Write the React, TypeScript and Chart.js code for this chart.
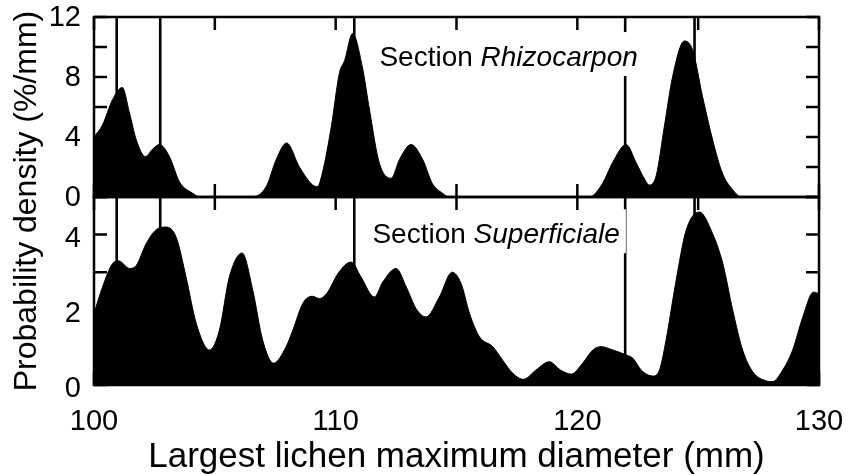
import React, { useEffect, useRef } from "react";
import { Chart, registerables } from "chart.js";

Chart.register(...registerables);

// Section Rhizocarpon (top panel)
const rhizoX = [100.0, 100.35, 100.77, 101.17, 101.47, 101.75, 102.13, 102.43, 102.71, 103.12, 103.54, 104.08, 104.4, 106.5, 107.13, 107.54, 107.97, 108.5, 109.05, 109.25, 109.45, 109.82, 110.16, 110.37, 110.7, 111.1, 111.4, 111.8, 112.3, 112.64, 113.12, 113.6, 114.0, 114.42, 114.7, 120.5, 121.04, 121.46, 122.02, 122.43, 122.78, 122.98, 123.26, 123.6, 123.94, 124.43, 124.77, 125.18, 125.6, 126.0, 126.42, 126.8, 130.0];
const rhizoY = [4.0, 4.8, 6.5, 7.3, 5.6, 3.8, 2.7, 3.2, 3.5, 2.7, 1.0, 0.25, 0, 0, 0.7, 2.5, 3.6, 2.0, 0.8, 0.7, 1.6, 4.7, 8.3, 9.1, 10.9, 8.7, 5.8, 2.3, 1.25, 2.5, 3.5, 2.5, 0.9, 0.25, 0, 0, 0.9, 2.3, 3.5, 2.3, 1.2, 0.8, 1.4, 4.7, 8.0, 10.4, 9.8, 6.7, 3.8, 1.6, 0.5, 0, 0];

// Section Superficiale (bottom panel)
const superX = [100.0, 100.35, 100.77, 101.03, 101.47, 101.75, 102.16, 102.57, 102.99, 103.4, 103.81, 104.23, 104.78, 105.19, 105.6, 106.13, 106.57, 106.98, 107.43, 107.95, 108.23, 108.64, 109.03, 109.33, 109.67, 110.09, 110.64, 111.05, 111.6, 111.95, 112.5, 112.92, 113.33, 113.74, 114.29, 114.82, 115.19, 115.54, 115.95, 116.5, 116.91, 117.33, 117.77, 118.29, 118.84, 119.3, 119.75, 120.22, 120.64, 120.98, 121.47, 122.02, 122.3, 122.64, 123.12, 123.4, 123.67, 124.09, 124.5, 125.05, 125.6, 126.02, 126.43, 126.84, 127.26, 127.81, 128.08, 128.5, 128.91, 129.33, 129.77, 130.0];
const superY = [1.9, 2.6, 3.23, 3.3, 3.1, 3.18, 3.76, 4.13, 4.2, 3.93, 2.87, 1.64, 0.93, 1.46, 2.87, 3.51, 2.52, 1.19, 0.58, 1.02, 1.46, 2.17, 2.36, 2.3, 2.47, 2.96, 3.27, 2.87, 2.34, 2.74, 3.1, 2.61, 2.03, 1.81, 2.34, 3.0, 2.7, 1.9, 1.28, 1.02, 0.66, 0.31, 0.15, 0.4, 0.62, 0.4, 0.29, 0.58, 0.93, 1.02, 0.93, 0.8, 0.71, 0.4, 0.24, 0.4, 1.19, 2.79, 4.11, 4.6, 4.02, 3.23, 1.99, 0.93, 0.35, 0.11, 0.09, 0.4, 0.93, 1.81, 2.47, 2.43];

// reference vertical lines (mm)
const markerLines = [100.94, 102.74, 110.77, 121.98, 124.85];

// tick positions
const xTickMarks = [100, 105, 110, 115, 120, 125, 130];
const topTickMarks = [0, 2, 4, 6, 8, 10, 12];
const botTickMarks = [0, 1, 2, 3, 4, 5];

const xTitle = "Largest lichen maximum diameter (mm)";
const yTitle = "Probability density (%/mm)";

const panelLabelPrefix = ["Section ", "Section "];
const panelLabelNames = ["Rhizocarpon", "Superficiale"];
const panelLabelAxes = ["yTop", "yBot"];
const panelLabelX = [111.81, 111.52];
const panelLabelY = [8.73, 3.77];

const FONT = "'Liberation Sans', Arial, Helvetica, sans-serif";

const noPad = (s: any) => {
  s.paddingTop = 0;
  s.paddingBottom = 0;
  s.paddingLeft = 0;
  s.paddingRight = 0;
};

const decorPlugin = {
  id: "decor",
  beforeDatasetsDraw(chart: any) {
    const { ctx, scales } = chart;
    const xs = scales.x;
    ctx.save();
    ctx.strokeStyle = "#000";
    ctx.lineWidth = 2.6;
    for (const id of ["yTop", "yBot"]) {
      const s = scales[id];
      for (const v of markerLines) {
        const px = xs.getPixelForValue(v);
        ctx.beginPath();
        ctx.moveTo(px, s.top);
        ctx.lineTo(px, s.bottom);
        ctx.stroke();
      }
    }
    ctx.restore();
  },
  afterDatasetsDraw(chart: any) {
    const { ctx, scales } = chart;
    const xs = scales.x;
    ctx.save();
    // panel labels with white boxes
    for (let i = 0; i < panelLabelNames.length; i++) {
      const ys = scales[panelLabelAxes[i]];
      const px = xs.getPixelForValue(panelLabelX[i]);
      const py = ys.getPixelForValue(panelLabelY[i]);
      ctx.font = `28px ${FONT}`;
      const w1 = ctx.measureText(panelLabelPrefix[i]).width;
      ctx.font = `italic 28px ${FONT}`;
      const w2 = ctx.measureText(panelLabelNames[i]).width;
      ctx.fillStyle = "#fff";
      ctx.fillRect(px - 6, py - 34, w1 + w2 + 12, 44);
      ctx.fillStyle = "#000";
      ctx.textBaseline = "alphabetic";
      ctx.textAlign = "left";
      ctx.font = `28px ${FONT}`;
      ctx.fillText(panelLabelPrefix[i], px, py);
      ctx.font = `italic 28px ${FONT}`;
      ctx.fillText(panelLabelNames[i], px + w1, py);
    }
    // frames and ticks
    ctx.strokeStyle = "#000";
    ctx.lineWidth = 2.5;
    const L = xs.left, R = xs.right;
    const TL = 13;
    const panels: [string, number[]][] = [["yTop", topTickMarks], ["yBot", botTickMarks]];
    for (const [id, marks] of panels) {
      const s = scales[id];
      ctx.strokeRect(L, s.top, R - L, s.bottom - s.top);
      ctx.beginPath();
      for (const v of xTickMarks) {
        const px = xs.getPixelForValue(v);
        ctx.moveTo(px, s.top);
        ctx.lineTo(px, s.top + TL);
        ctx.moveTo(px, s.bottom);
        ctx.lineTo(px, s.bottom - TL);
      }
      for (const v of marks) {
        const py = s.getPixelForValue(v);
        ctx.moveTo(L, py);
        ctx.lineTo(L + TL, py);
        ctx.moveTo(R, py);
        ctx.lineTo(R - TL, py);
      }
      ctx.stroke();
    }
    // y title spanning both panels
    const top = scales.yTop.top, bottom = scales.yBot.bottom;
    ctx.translate(27, (top + bottom) / 2);
    ctx.rotate(-Math.PI / 2);
    ctx.font = `32px ${FONT}`;
    ctx.textAlign = "center";
    ctx.textBaseline = "middle";
    ctx.fillStyle = "#000";
    ctx.fillText(yTitle, 0, 0);
    ctx.restore();
  },
};

export default function App() {
  const ref = useRef<HTMLCanvasElement>(null);
  useEffect(() => {
    const canvas = ref.current!;
    const chart = new Chart(canvas, {
      type: "line",
      data: {
        datasets: [
          {
            label: "Section Rhizocarpon",
            data: rhizoX.map((x, i) => ({ x, y: rhizoY[i] })),
            yAxisID: "yTop",
            borderColor: "#000",
            backgroundColor: "#000",
            borderWidth: 1,
            pointRadius: 0,
            fill: "origin",
            cubicInterpolationMode: "monotone",
          },
          {
            label: "Section Superficiale",
            data: superX.map((x, i) => ({ x, y: superY[i] })),
            yAxisID: "yBot",
            borderColor: "#000",
            backgroundColor: "#000",
            borderWidth: 1,
            pointRadius: 0,
            fill: "origin",
            cubicInterpolationMode: "monotone",
          },
        ],
      },
      options: {
        responsive: false,
        animation: false,
        devicePixelRatio: 1,
        layout: { padding: { left: 0, top: 17, right: 38, bottom: 0 } },
        plugins: { legend: { display: false }, tooltip: { enabled: false } },
        scales: {
          x: {
            type: "linear",
            min: 100,
            max: 130,
            grid: { display: false, drawTicks: false },
            border: { display: false },
            ticks: {
              stepSize: 10,
              autoSkip: false,
              maxRotation: 0,
              padding: 20,
              color: "#000",
              font: { family: FONT, size: 29 },
            },
            title: {
              display: true,
              text: xTitle,
              color: "#000",
              font: { family: FONT, size: 35, lineHeight: 1 },
              padding: { top: 0, bottom: 0 },
            },
            afterFit: (s: any) => {
              s.height = 90;
              noPad(s);
            },
          },
          yBot: {
            type: "linear",
            position: "left",
            stack: "panels",
            stackWeight: 188,
            min: 0,
            max: 5,
            grid: { display: false, drawTicks: false },
            border: { display: false },
            ticks: {
              stepSize: 2,
              includeBounds: false,
              autoSkip: false,
              padding: 13,
              labelOffset: 4,
              color: "#000",
              font: { family: FONT, size: 29 },
            },
            afterFit: (s: any) => {
              s.width = 94;
              noPad(s);
            },
          },
          yTop: {
            type: "linear",
            position: "left",
            stack: "panels",
            stackWeight: 180,
            min: 0,
            max: 12,
            grid: { display: false, drawTicks: false },
            border: { display: false },
            ticks: {
              stepSize: 4,
              autoSkip: false,
              padding: 13,
              labelOffset: 1,
              color: "#000",
              font: { family: FONT, size: 29 },
            },
            afterFit: (s: any) => {
              s.width = 94;
              noPad(s);
            },
          },
        },
      },
      plugins: [decorPlugin],
    } as any);
    return () => chart.destroy();
  }, []);
  return (
    <div style={{ position: "fixed", left: 0, top: 0, width: 857, height: 475, background: "#fff" }}>
      <canvas ref={ref} width={857} height={475} style={{ display: "block", width: 857, height: 475 }} />
    </div>
  );
}
